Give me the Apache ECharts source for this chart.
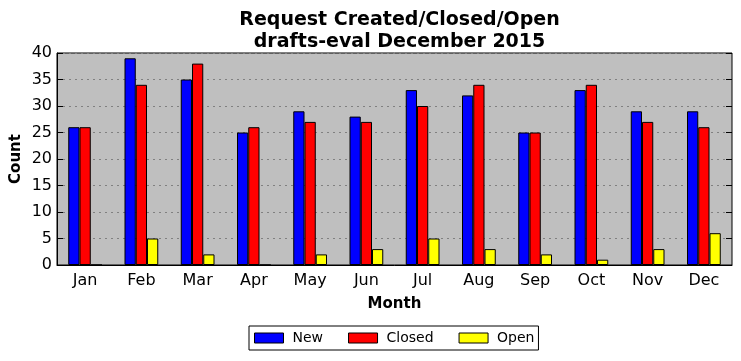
<!DOCTYPE html>
<html><head><meta charset="utf-8">
<script src="https://cdn.jsdelivr.net/npm/echarts@6/dist/echarts.min.js"></script>
<style>html,body{margin:0;padding:0;background:#fff}#c{width:741px;height:361px}</style>
</head><body><div id="c"></div>
<script>
const months = ['Jan','Feb','Mar','Apr','May','Jun','Jul','Aug','Sep','Oct','Nov','Dec'];
const newVals = [26,39,35,25,29,28,33,32,25,33,29,29];
const closedVals = [26,34,38,26,27,27,30,34,25,34,27,26];
const openVals = [0,5,2,0,2,3,5,3,2,1,3,6];
const yTicks = [0,5,10,15,20,25,30,35,40];

const font = 'DejaVu Sans';
const chart = echarts.init(document.getElementById('c'));
const mk = (name, data, color) => ({
  name, type: 'bar', data, barWidth: '20%', barGap: '0%',
  itemStyle: {color, borderColor: '#000', borderWidth: 1},
  xAxisIndex: 0, yAxisIndex: 0
});
chart.setOption({
  animation: false,
  backgroundColor: '#fff',
  title: {
    text: 'Request Created/Closed/Open\ndrafts-eval December 2015',
    left: 394.5, top: 4, textAlign: 'center',
    textStyle: {fontFamily: font, fontSize: 19, fontWeight: 'bold', color: '#000', lineHeight: 22}
  },
  legend: {
    data: ['New','Closed','Open'],
    left: 249, top: 326,
    icon: 'rect',
    itemWidth: 29, itemHeight: 10, itemGap: 25,
    itemStyle: {borderColor: '#000', borderWidth: 1},
    borderColor: '#000', borderWidth: 1, padding: [5, 4, 5, 5],
    textStyle: {fontFamily: font, fontSize: 14, color: '#000', padding: [0, 0, 0, 4]}
  },
  grid: {left: 57, right: 9, top: 53, bottom: 96, outerBoundsMode: 'none', containLabel: false,
    show: true, backgroundColor: '#bfbfbf', borderColor: '#000', borderWidth: 1},
  xAxis: [{
    type: 'category', data: months, position: 'bottom',
    name: 'Month', nameLocation: 'middle', nameGap: 32, nameMoveOverlap: false,
    nameTextStyle: {fontFamily: font, fontSize: 15, fontWeight: 'bold', color: '#000'},
    axisLine: {lineStyle: {color: '#000'}},
    axisTick: {inside: true, alignWithLabel: true, length: 6, lineStyle: {color: '#000'}},
    axisLabel: {fontFamily: font, fontSize: 16, color: '#000', margin: 8},
    splitLine: {show: false}
  }, {
    type: 'category', data: months, position: 'top',
    axisLine: {show: false},
    axisTick: {inside: true, alignWithLabel: true, length: 6, lineStyle: {color: '#000'}},
    axisLabel: {show: false}
  }],
  yAxis: [{
    type: 'value', min: 0, max: 40, interval: 5,
    name: 'Count', nameLocation: 'middle', nameGap: 33, nameMoveOverlap: false,
    nameTextStyle: {fontFamily: font, fontSize: 15, fontWeight: 'bold', color: '#000'},
    axisLine: {show: true, lineStyle: {color: '#000'}},
    axisTick: {show: true, inside: true, length: 6, lineStyle: {color: '#000'}},
    axisLabel: {fontFamily: font, fontSize: 16, color: '#000', margin: 5,
      formatter: v => yTicks.includes(v) ? String(v) : ''},
    splitLine: {show: true, lineStyle: {color: '#808080', type: [2, 4], width: 1}}
  }, {
    type: 'value', min: 0, max: 40, interval: 5, position: 'right',
    axisLine: {show: false},
    axisTick: {show: true, inside: true, length: 6, lineStyle: {color: '#000'}},
    axisLabel: {show: false},
    splitLine: {show: false}
  }],
  series: [mk('New', newVals, '#0000ff'), mk('Closed', closedVals, '#ff0000'), mk('Open', openVals, '#ffff00')]
});
</script></body></html>
